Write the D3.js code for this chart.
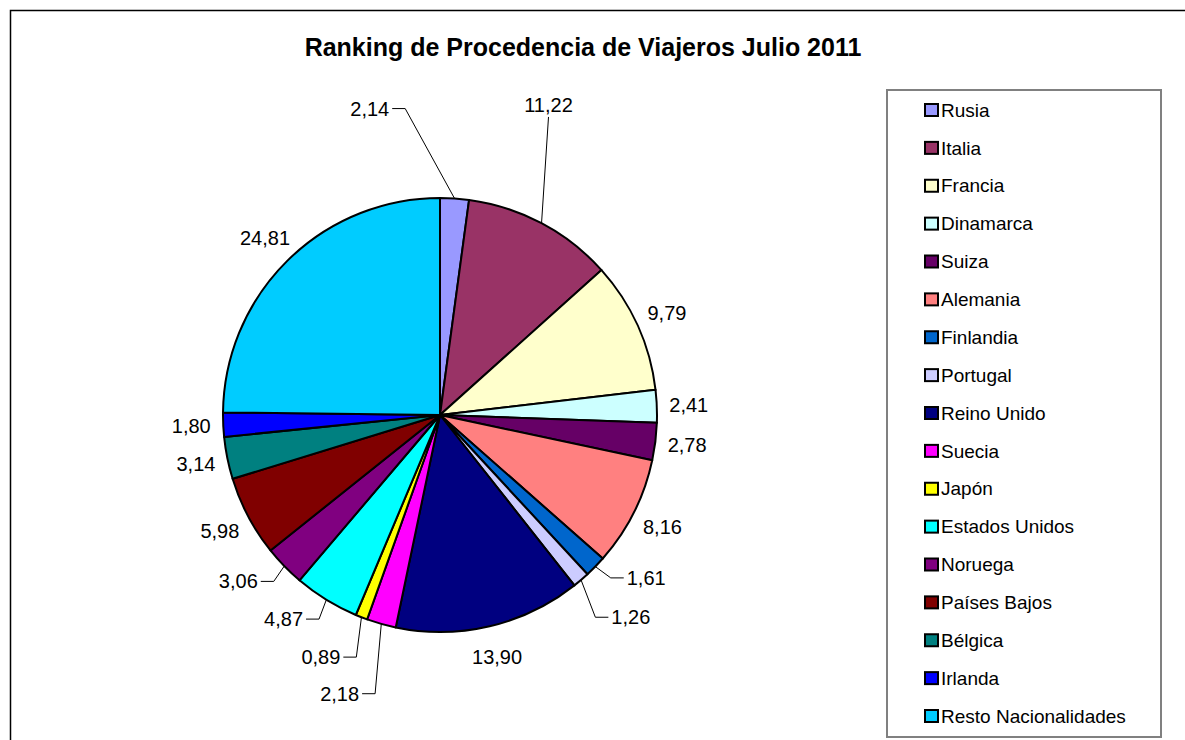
<!DOCTYPE html>
<html>
<head>
<meta charset="utf-8">
<script src="https://cdn.jsdelivr.net/npm/d3@7"></script>
<style>
  body { margin: 0; background: #fff; }
  text { font-family: Arial, "Liberation Sans", sans-serif; fill: #000; }
</style>
</head>
<body>
<div id="pie"></div>
<script>
// data
const countries = ["Rusia", "Italia", "Francia", "Dinamarca", "Suiza", "Alemania", "Finlandia", "Portugal",
                   "Reino Unido", "Suecia", "Japón", "Estados Unidos", "Noruega", "Países Bajos", "Bélgica",
                   "Irlanda", "Resto Nacionalidades"]
const shares = [2.14, 11.22, 9.79, 2.41, 2.78, 8.16, 1.61, 1.26, 13.90, 2.18, 0.89, 4.87, 3.06, 5.98, 3.14, 1.80, 24.81]
const colors = ["#9999FF", "#993366", "#FFFFCC", "#CCFFFF", "#660066", "#FF8080", "#0066CC", "#CCCCFF",
                "#000080", "#FF00FF", "#FFFF00", "#00FFFF", "#800080", "#800000", "#008080", "#0000FF", "#00CCFF"]
const title = "Ranking de Procedencia de Viajeros Julio 2011"

// labels that were dragged away from the pie (pixel shift, drawn with a leader line)
const labelShift = {
  "Rusia": [-87, -58], "Italia": [-8, -90], "Finlandia": [28, -11], "Portugal": [29, 13],
  "Suecia": [-33, 39], "Japón": [-29, 10], "Estados Unidos": [-26, -8], "Noruega": [-23, -7]
}

function pie(){
  const width = 1185, height = 740
  const cx = 440, cy = 415, radius = 217

  const svg = d3.select("#pie").append("svg").attr("width", width).attr("height", height)

  // chart border (runs off the picture on the right and bottom)
  svg.append("rect").attr("x", 10.5).attr("y", 10.5).attr("width", 1300).attr("height", 900)
     .attr("fill", "none").attr("stroke", "#000").attr("stroke-width", 1.5)

  // title
  svg.append("text").attr("x", 583).attr("y", 56).attr("text-anchor", "middle")
     .style("font-size", "25px").style("font-weight", "bold").text(title)

  const data = countries.map((c, i) => ({name: c, value: shares[i], color: colors[i]}))
  const color = d3.scaleOrdinal().domain(countries).range(colors)

  const arcs = d3.pie().sort(null).value(d => d.value)(data)
  const arc = d3.arc().innerRadius(0).outerRadius(radius)

  const g = svg.append("g").attr("transform", `translate(${cx},${cy})`)

  // slices
  g.selectAll("path").data(arcs).join("path").attr("d", arc)
   .attr("fill", d => color(d.data.name)).attr("stroke", "#000").attr("stroke-width", 2)
   .attr("stroke-linejoin", "round")

  // labels
  const fmt = v => v.toFixed(2).replace(".", ",")
  const polar = (a, r) => [r * Math.sin(a), -r * Math.cos(a)]

  arcs.forEach(d => {
    const mid = (d.startAngle + d.endAngle) / 2
    let [x, y] = polar(mid, radius + 32)
    const shift = labelShift[d.data.name]
    if (shift) { x += shift[0]; y += shift[1] }

    const t = g.append("text").attr("x", x).attr("y", y).attr("dy", "0.35em").attr("text-anchor", "middle")
               .style("font-size", "20px").text(fmt(d.data.value))
    if (!shift) return

    // leader line from the slice to the label
    const w = t.node().getComputedTextLength()
    const [px, py] = polar(mid, radius)
    const x0 = x - w / 2, x1 = x + w / 2
    let pts
    if (px > x0 - 10 && px < x1 + 10 && py > y) {
      pts = [[x, y + 12], [px, py]]
    } else if (px > x) {
      pts = [[x1 + 3, y], [x1 + 16, y], [px, py]]
    } else {
      pts = [[x0 - 3, y], [x0 - 16, y], [px, py]]
    }
    g.append("path").attr("d", d3.line()(pts)).attr("fill", "none").attr("stroke", "#000").attr("stroke-width", 1)
  })

  // legend
  const legend = svg.append("g")
  legend.append("rect").attr("x", 887).attr("y", 90).attr("width", 274).attr("height", 647)
        .attr("fill", "#fff").attr("stroke", "#808080").attr("stroke-width", 2)

  const rowY = d3.scalePoint().domain(countries).range([110, 716])
  legend.selectAll("rect.swatch").data(countries).join("rect").attr("class", "swatch")
        .attr("x", 925).attr("y", d => rowY(d) - 6).attr("width", 13).attr("height", 12)
        .attr("fill", d => color(d)).attr("stroke", "#000").attr("stroke-width", 2)
  legend.selectAll("text").data(countries).join("text")
        .attr("x", 941).attr("y", d => rowY(d)).attr("dy", "0.35em")
        .style("font-size", "19px").text(d => d)
}

pie()
</script>
</body>
</html>
